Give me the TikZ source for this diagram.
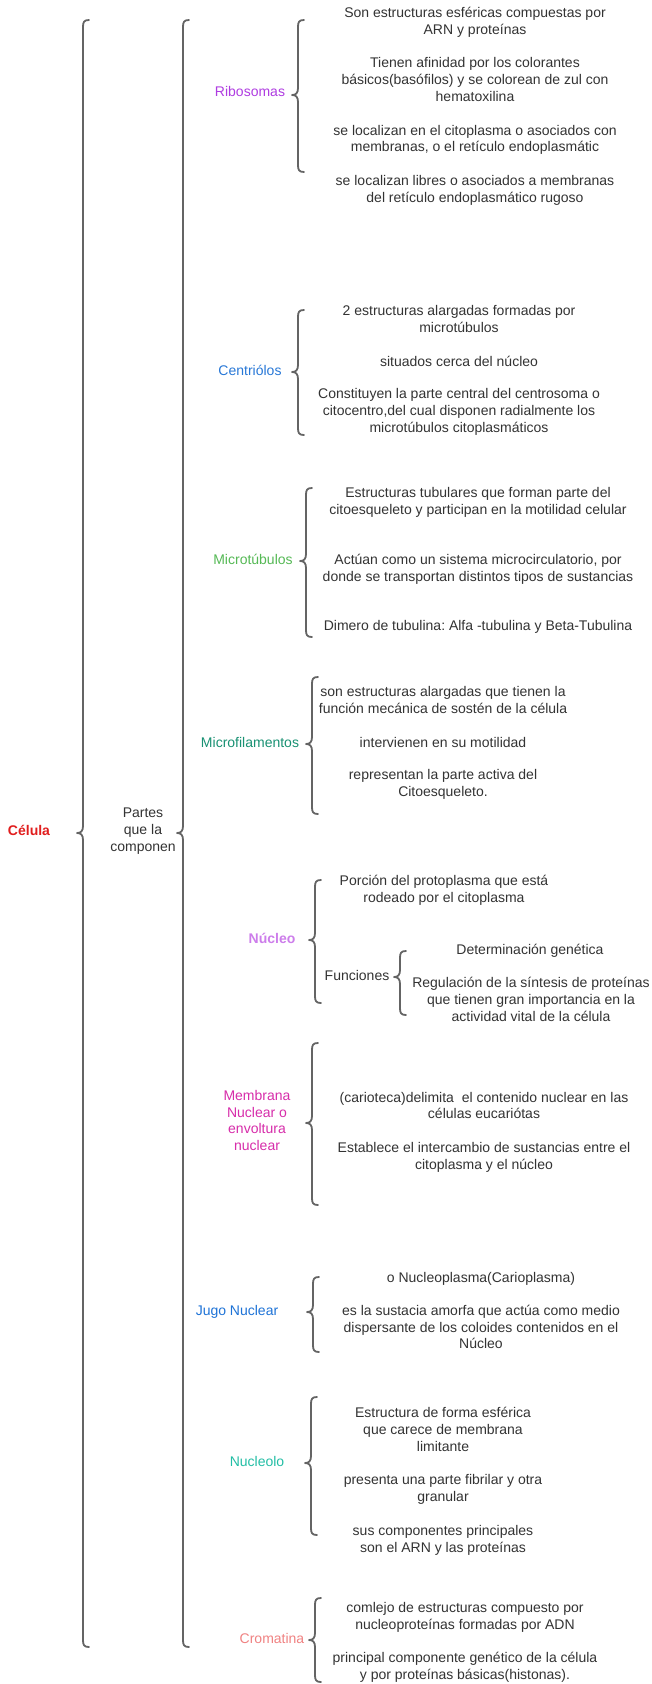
\documentclass[tikz,border=0pt]{standalone}
\usepackage{fontspec}
\setmainfont{Liberation Sans}
\definecolor{txtgray}{RGB}{51,51,51}
\definecolor{brgray}{RGB}{100,100,100}
\definecolor{cCelula}{RGB}{225,30,30}
\definecolor{cRibo}{RGB}{175,60,225}
\definecolor{cCentri}{RGB}{40,120,215}
\definecolor{cMtub}{RGB}{85,185,85}
\definecolor{cMfil}{RGB}{25,145,115}
\definecolor{cNucleo}{RGB}{205,125,235}
\definecolor{cMemb}{RGB}{215,45,170}
\definecolor{cJugo}{RGB}{30,115,215}
\definecolor{cNucleolo}{RGB}{35,190,165}
\definecolor{cCroma}{RGB}{240,130,130}
\newcommand\mybrace[4]{% X, top, bottom, tip y
  \draw[brace line] (#1+6,#2) .. controls (#1+1,#2) and (#1,#2+2) .. (#1,#2+7)
    -- (#1,#4-7) .. controls (#1,#4-2) and (#1-2,#4) .. (#1-6,#4)
    .. controls (#1-2,#4) and (#1,#4+2) .. (#1,#4+7)
    -- (#1,#3-7) .. controls (#1,#3-2) and (#1+1,#3) .. (#1+6,#3);}
\begin{document}
\frenchspacing
\begin{tikzpicture}[x=1pt,y=-1pt,
  txt/.style={font=\fontsize{14}{16.7}\selectfont\frenchspacing, text=txtgray, align=center, inner sep=0pt,
    execute at begin node=\strut, execute at end node=\strut},
  lbl/.style={font=\fontsize{14}{16.7}\selectfont, align=center, inner sep=0pt,
    execute at begin node=\strut, execute at end node=\strut},
  brace line/.style={draw=brgray, line width=1.8pt, line cap=round, line join=round}]
\useasboundingbox[fill=white] (0,0) rectangle (652,1684);

% braces
\mybrace{83}{20}{1647}{833}
\mybrace{183}{20}{1647}{833}
\mybrace{298}{20}{172}{95}
\mybrace{298}{310}{435}{372}
\mybrace{306}{488}{637}{561}
\mybrace{312}{677}{814}{744}
\mybrace{315}{880}{1003}{940}
\mybrace{400}{951}{1015}{977}
\mybrace{312}{1043}{1205}{1123}
\mybrace{313}{1277}{1352}{1312}
\mybrace{311}{1397}{1535}{1463}
\mybrace{315}{1598}{1682}{1640}

% level labels
\node[lbl, text=cCelula, font=\fontsize{14}{16.7}\selectfont\bfseries] (celula) at (29,832) {Célula};
\node[lbl, text=txtgray] (partes) at (143,832) {Partes\\que la\\componen};

\node[lbl, text=cRibo] (ribo) at (250,93) {Ribosomas};
\node[lbl, text=cCentri] (centri) at (250,372) {Centriólos};
\node[lbl, text=cMtub] (mtub) at (253,561) {Microtúbulos};
\node[lbl, text=cMfil] (mfil) at (250,744) {Microfilamentos};
\node[lbl, text=cNucleo, font=\fontsize{14}{16.7}\selectfont\bfseries] (nucleo) at (272,940) {Núcleo};
\node[lbl, text=txtgray] (func) at (357,977) {Funciones};
\node[lbl, text=cMemb] (memb) at (257,1123) {Membrana\\Nuclear o\\envoltura\\nuclear};
\node[lbl, text=cJugo] (jugo) at (237,1312) {Jugo Nuclear};
\node[lbl, text=cNucleolo] (nucleolo) at (257,1463) {Nucleolo};
\node[lbl, text=cCroma] (croma) at (272,1640) {Cromatina};

% Ribosomas
\node[txt] (r1) at (475,23.5) {Son estructuras esféricas compuestas por\\ARN y proteínas};
\node[txt] (r2) at (475,82) {Tienen afinidad por los colorantes\\básicos(basófilos) y se colorean de zul con\\hematoxilina};
\node[txt] (r3) at (475,141) {se localizan en el citoplasma o asociados con\\membranas, o el retículo endoplasmátic};
\node[txt] (r4) at (475,191.5) {se localizan libres o asociados a membranas\\del retículo endoplasmático rugoso};

% Centriolos
\node[txt] (c1) at (459,321.5) {2 estructuras alargadas formadas por\\microtúbulos};
\node[txt] (c2) at (459,363) {situados cerca del núcleo};
\node[txt] (c3) at (459,413) {Constituyen la parte central del centrosoma o\\citocentro,del cual disponen radialmente los\\microtúbulos citoplasmáticos};

% Microtubulos
\node[txt] (t1) at (478,503.5) {Estructuras tubulares que forman parte del\\citoesqueleto y participan en la motilidad celular};
\node[txt] (t2) at (478,570) {Actúan como un sistema microcirculatorio, por\\donde se transportan distintos tipos de sustancias};
\node[txt] (t3) at (478,627) {Dimero de tubulina: Alfa -tubulina y Beta-Tubulina};

% Microfilamentos
\node[txt] (f1) at (443,702.5) {son estructuras alargadas que tienen la\\función mecánica de sostén de la célula};
\node[txt] (f2) at (443,744) {intervienen en su motilidad};
\node[txt] (f3) at (443,785.5) {representan la parte activa del\\Citoesqueleto.};

% Nucleo
\node[txt] (n1) at (444,891.5) {Porción del protoplasma que está\\rodeado por el citoplasma};
\node[txt] (n2) at (530,951) {Determinación genética};
\node[txt] (n3) at (531,1001.7) {Regulación de la síntesis de proteínas\\que tienen gran importancia en la\\actividad vital de la célula};

% Membrana
\node[txt] (m1) at (484,1108) {(carioteca)delimita~ el contenido nuclear en las\\células eucariótas};
\node[txt] (m2) at (484,1158.5) {Establece el intercambio de sustancias entre el\\citoplasma y el núcleo};

% Jugo nuclear
\node[txt] (j1) at (481,1279) {o Nucleoplasma(Carioplasma)};
\node[txt] (j2) at (481,1329.5) {es la sustacia amorfa que actúa como medio\\dispersante de los coloides contenidos en el\\Núcleo};

% Nucleolo
\node[txt] (o1) at (443,1432) {Estructura de forma esférica\\que carece de membrana\\limitante};
\node[txt] (o2) at (443,1490.5) {presenta una parte fibrilar y otra\\granular};
\node[txt] (o3) at (443,1541.5) {sus componentes principales\\son el ARN y las proteínas};

% Cromatina
\node[txt] (k1) at (465,1618.5) {comlejo de estructuras compuesto por\\nucleoproteínas formadas por ADN};
\node[txt] (k2) at (465,1668.5) {principal componente genético de la célula\\y por proteínas básicas(histonas).};
\end{tikzpicture}
\end{document}
